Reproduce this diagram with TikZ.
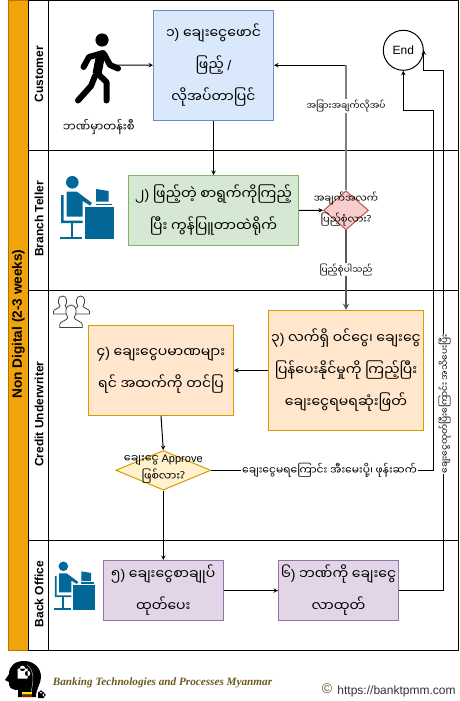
\documentclass[tikz,border=0pt]{standalone}
\usepackage{fontspec}
\usetikzlibrary{shapes.geometric}
\setmainfont{Liberation Sans}
\newfontfamily\mmfont[Script=Myanmar]{Noto Sans Myanmar UI}
\newfontfamily\logofont{Liberation Serif}
\newfontfamily\latinfont{Liberation Sans}
\newcommand{\lat}[1]{{\latinfont #1}}
\definecolor{laneorange}{HTML}{F0A30A}
\definecolor{laneedge}{HTML}{BD7000}
\definecolor{iconblue}{HTML}{036897}
\definecolor{bluefill}{HTML}{DAE8FC}
\definecolor{blueedge}{HTML}{6C8EBF}
\definecolor{greenfill}{HTML}{D5E8D4}
\definecolor{greenedge}{HTML}{82B366}
\definecolor{redfill}{HTML}{F8CECC}
\definecolor{rededge}{HTML}{B85450}
\definecolor{orangefill}{HTML}{FFE6CC}
\definecolor{orangeedge}{HTML}{D79B00}
\definecolor{yellowfill}{HTML}{FFF2CC}
\definecolor{purplefill}{HTML}{E1D5E7}
\definecolor{purpleedge}{HTML}{9673A6}
\definecolor{logobrown}{HTML}{6B5A1E}
\tikzset{
	lane/.style={draw=black, line width=1pt},
	lanetext/.style={rotate=90, font=\bfseries\fontsize{12}{14}\selectfont},
	boxtext/.style={draw, line width=1pt, align=center, inner sep=0pt, font=\mmfont\fontsize{14}{32}\selectfont},
	bluebox/.style={boxtext, fill=bluefill, draw=blueedge},
	greenbox/.style={boxtext, fill=greenfill, draw=greenedge},
	orangebox/.style={boxtext, fill=orangefill, draw=orangeedge},
	purplebox/.style={boxtext, fill=purplefill, draw=purpleedge, minimum width=120pt, minimum height=60pt},
	smalltext/.style={align=center, inner sep=1pt, font=\mmfont\fontsize{10}{21}\selectfont},
	edgetext/.style={align=center, inner sep=1pt, fill=white, font=\mmfont\fontsize{9}{12}\selectfont},
	widetext/.style={edgetext, font=\mmfont\fontsize{10.7}{13}\selectfont},
	limb/.style={line width=6pt, line cap=round, line join=round},
	link/.style={->, line width=1pt},
	graylink/.style={line width=1.7pt, draw=gray},
	pics/deskicon/.style={code={
		\fill[iconblue] (12.3,6.3) circle (6.3);
		\fill[iconblue] (6.7,15.7) -- (17,15.7) -- (32,27) -- (30,29.5) -- (22.7,25) -- (22.7,40.7) -- (6.7,40.7) -- cycle;
		\fill[iconblue] (1,19) -- (3.5,19) -- (3.5,44.5) -- (22.7,44.5) -- (22.7,47) -- (1,47) -- cycle;
		\fill[iconblue] (10.7,47) rectangle (13,61.3);
		\fill[iconblue] (0,61.3) rectangle (22,63.3);
		\fill[iconblue] (25,31.3) rectangle (54,63.3);
		\fill[iconblue] (36,13) -- (48.7,15) -- (48.7,25.7) -- (36,25.7) -- cycle;
		\fill[iconblue] (36,27.5) rectangle (52,29.3);
	}},
	pics/usericon/.style={code={
		\draw[fill=white, draw=black!75, line width=0.8pt] (-9,18) -- (-9,15.5) .. controls (-9,13) and (-3,12.5) .. (-2.5,10) .. controls (-5,7) and (-5,0) .. (0,0) .. controls (5,0) and (5,7) .. (2.5,10) .. controls (3,12.5) and (9,13) .. (9,15.5) -- (9,18) -- cycle;
	}}
}
\begin{document}
\begin{tikzpicture}[x=1pt, y=-1pt, >=stealth]
	\useasboundingbox (0,0) rectangle (459,701);
	\fill[white] (0,0) rectangle (459,701);
	\draw[line width=1pt, draw=laneedge, fill=laneorange] (8.3,0.3) rectangle (28.3,650.3);
	\draw[lane] (28.3,0.3) rectangle (458,150);
	\draw[lane] (28.3,150) rectangle (458,290);
	\draw[lane] (28.3,290) rectangle (458,540.3);
	\draw[lane] (28.3,540.3) rectangle (458,650.3);
	\draw[lane] (48.3,0.3) -- (48.3,650.3);
	\node[rotate=90, font=\bfseries\fontsize{13.6}{16}\selectfont] (nondigital) at (18.3,324) {Non Digital (2-3 weeks)};
	\node[lanetext] (customer) at (39,74) {Customer};
	\node[lanetext] (teller) at (39,219) {Branch Teller};
	\node[lanetext] (underwriter) at (39,414) {Credit Underwriter};
	\node[lanetext] (backoffice) at (39,594) {Back Office};
	\fill (102,40) circle (6.6);
	\draw[line width=9pt, line join=round] (101,53) -- (97,74);
	\draw[limb] (103,53) -- (89,57) -- (83.5,67);
	\draw[limb] (104,54) -- (110,65) -- (118,68.5);
	\draw[limb] (98,74) -- (106.5,82) -- (106.5,100.5);
	\draw[limb] (95,76) -- (91,86) -- (78,100.5);
	\pic at (60,176) {deskicon};
	\pic[scale=0.76] at (54,561.5) {deskicon};
	\pic at (62.5,296) {usericon};
	\pic at (80.5,296) {usericon};
	\pic[scale=1.25] at (71,305) {usericon};
	\coordinate (walker) at (116.7,65);
	\node[smalltext, font=\mmfont\fontsize{11.5}{14}\selectfont] (queue) at (98.8,127.5) {ဘဏ်မှာတန်းစီ};
	\node[bluebox, minimum width=120pt, minimum height=110pt] (form) at (213.5,65.2) {၁\lat{)} ချေးငွေဖောင်\\ဖြည့် \lat{/}\\လိုအပ်တာပြင်};
	\node[greenbox, minimum width=170pt, minimum height=70pt] (entry) at (213.5,210.5) {၂\lat{)} ဖြည့်တဲ့ စာရွက်ကိုကြည့်\\ပြီး ကွန်ပြူတာထဲရိုက်};
	\node[draw=rededge, fill=redfill, line width=1pt, shape=diamond, minimum width=45pt, minimum height=39pt, inner sep=0pt] (complete) at (346,210.3) {};
	\node[orangebox, minimum width=155pt, minimum height=120pt] (review) at (346,370.3) {၃\lat{)} လက်ရှိ ဝင်ငွေ၊ ချေးငွေ\\ပြန်ပေးနိုင်မှုကို ကြည့်ပြီး\\ချေးငွေရမရဆုံးဖြတ်};
	\node[orangebox, minimum width=145pt, minimum height=90pt] (submit) at (161,370.3) {၄\lat{)} ချေးငွေပမာဏများ\\ရင် အထက်ကို တင်ပြ};
	\node[draw=orangeedge, fill=yellowfill, line width=1pt, shape=diamond, minimum width=95pt, minimum height=39.5pt, inner sep=0pt] (approve) at (163.3,470.3) {};
	\node[purplebox] (contract) at (163.3,590.5) {၅\lat{)} ချေးငွေစာချုပ်\\ထုတ်ပေး};
	\node[purplebox] (withdraw) at (338.5,590.5) {၆\lat{)} ဘဏ်ကို ချေးငွေ\\လာထုတ်};
	\node[draw, circle, fill=white, line width=1pt, minimum size=40pt, inner sep=0pt, font=\fontsize{12}{14}\selectfont] (finish) at (403.3,50.3) {End};
	\coordinate (rejectturn) at (433.3,110);
	\coordinate (payturn) at (443.3,70.3);
	\draw[link] (walker) -- (form.west);
	\draw[link] (form.south) -- (entry.north);
	\draw[link] (entry.east) -- (complete.west);
	\draw[link] (complete.north |- form.east) -- (form.east);
	\draw[graylink] (complete.north) -- (complete.north |- form.east);
	\draw[graylink, ->, draw=black!65] (complete.south) -- (review.north);
	\draw[link] (review.west) -- (submit.east);
	\draw[link] (submit.south) -- (approve.north);
	\draw[link] (approve.south) -- (contract.north);
	\draw[link] (contract.east) -- (withdraw.west);
	\draw[link] (approve.east) -| (rejectturn) -| (finish.south);
	\draw[link] (withdraw.east) -| (payturn) -| (finish.east);
	\node[edgetext] (morelabel) at (346,106) {အခြားအချက်လိုအပ်};
	\node[edgetext] (oklabel) at (346,269.5) {ပြည့်စုံပါသည်};
	\node[widetext] (rejectlabel) at (329.5,470.3) {ချေးငွေမရကြောင်း အီးမေးပို့၊ ဖုန်းဆက်};
	\node[edgetext, rotate=90] (paylabel) at (444.5,404) {ချေးငွေထုတ်ပြီးကြောင်း အသိပေးပြီး};
	\node[smalltext] (completetext) at (346,209.5) {အချက်အလက်\\ပြည့်စုံလား?};
	\node[smalltext, font=\mmfont\fontsize{11}{18}\selectfont] (approvetext) at (163.3,469.5) {ချေးငွေ \lat{Approve}\\ဖြစ်လား?};
	\fill (18,697) -- (18,690) .. controls (14,690) and (10,689) .. (9,685) -- (9,682) -- (5,680) -- (9,674) .. controls (9,666) and (15,661) .. (24,661) .. controls (34,661) and (41,668) .. (41,677) .. controls (41,684) and (36,688) .. (36,697) -- cycle;
	\fill[white] (17.5,668.5) rectangle (27.5,678.5) (22.5,668.5) circle (2.8) (27.5,673.5) circle (2.8);
	\draw[white!70!black, line width=0.5pt] (27,665) .. controls (34,670) and (34,680) .. (31,692);
	\fill[yellow!90!orange] (22,692) rectangle (32,693.7);
	\fill[green!60!black] (22,693.7) rectangle (32,695.4);
	\fill[red!80!black] (22,695.4) rectangle (32,697);
	\fill (38,692) rectangle (44,698) (41,692) circle (1.8) (44,695) circle (1.8);
	\node[inner sep=0pt, text=logobrown, font=\logofont\bfseries\itshape\fontsize{11.2}{14}\selectfont] (bankname) at (162.5,683) {Banking Technologies and Processes Myanmar};
	\node[inner sep=0pt, text=logobrown, font=\fontsize{14}{16}\selectfont] (copyright) at (327,689) {©};
	\node[inner sep=0pt, text=black!80, font=\fontsize{12}{14}\selectfont] (website) at (396.5,691) {https://banktpmm.com};
\end{tikzpicture}
\end{document}
